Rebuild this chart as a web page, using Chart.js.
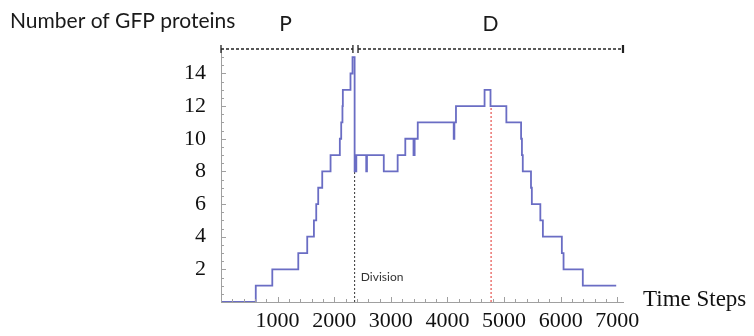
<!DOCTYPE html>
<html>
<head>
<meta charset="utf-8">
<script src="https://cdn.jsdelivr.net/npm/chart.js@4"></script>
<style>
  html, body { margin: 0; padding: 0; background: #fff; }
</style>
</head>
<body>
<canvas id="myGraph" width="754" height="336"></canvas>
<script>
// Time steps at which the number of GFP proteins changes
var stepTimes = [0, 614, 906, 1365, 1523, 1641, 1682, 1717, 1788, 1935, 2099, 2123, 2145, 2152, 2287, 2323,
    2360, 2390, 2565, 2578, 2875, 3120, 3255, 3400, 3420, 3475, 4110, 4122, 4150, 4655, 4760, 5040,
    5300, 5315, 5330, 5475, 5490, 5640, 5685, 6020, 6050, 6390, 6980];

// Protein count from each of those time steps on
var gfpCounts = [0, 1, 2, 3, 4, 5, 6, 7, 8, 9, 10, 11, 12, 13, 14, 15,
    8, 9, 8, 9, 8, 9, 10, 9, 10, 11, 10, 11, 12, 13, 12, 11,
    10, 9, 8, 7, 6, 5, 4, 3, 2, 1, 1];

// Tick labels
var xTickValues = [1000, 2000, 3000, 4000, 5000, 6000, 7000];
var yTickValues = [2, 4, 6, 8, 10, 12, 14];

// Division marker and the red marker
var divisionTime = 2360;
var divisionCount = 8;
var markTime = 4770;
var markCount = 12;

// Phase brackets on top (P = before division, D = after)
var phaseNames = ['P', 'D'];
var phaseStart = [0, 2420];
var phaseEnd = [2330, 7100];
var phaseLabelAt = [1140, 4760];

// Axis ranges
var xMax = 7100;
var yMax = 15.5;

// Build the points of the step line
var points = stepTimes.map(function (t, i) {
    return { x: t, y: gfpCounts[i] };
});

// Bracket datasets
var brackets = phaseNames.map(function (name, i) {
    return {
        label: name,
        data: [{ x: phaseStart[i], y: yMax }, { x: phaseEnd[i], y: yMax }],
        borderColor: '#222',
        borderWidth: 1.3,
        borderDash: [3, 2],
        pointStyle: 'line',
        rotation: 90,
        pointRadius: 4,
        pointBorderWidth: i === 1 ? [1.3, 2.2] : 1.3,
        pointBorderColor: '#222',
        clip: false,
        order: 3
    };
});

// Ticks, labels and notes drawn on top
var annotations = {
    id: 'annotations',
    afterDraw: function (chart) {
        var ctx = chart.ctx;
        var x = chart.scales.x;
        var y = chart.scales.y;
        var area = chart.chartArea;
        ctx.save();

        // Small ticks pointing into the plot
        ctx.strokeStyle = '#a0a0a0';
        ctx.lineWidth = 1;
        ctx.beginPath();
        for (var t = 0; t <= 7000; t += 200) {
            var px = Math.round(x.getPixelForValue(t)) + 0.5;
            var len = t % 1000 === 0 ? 5 : 3;
            ctx.moveTo(px, area.bottom);
            ctx.lineTo(px, area.bottom - len);
        }
        for (var v = 0; v <= 15; v += 0.5) {
            var py = Math.round(y.getPixelForValue(v)) + 0.5;
            var l = v % 2 === 0 ? 5 : 3;
            ctx.moveTo(area.left, py);
            ctx.lineTo(area.left + l, py);
        }
        ctx.stroke();

        // Texts
        ctx.fillStyle = '#1a1a1a';
        ctx.textBaseline = 'middle';
        ctx.textAlign = 'left';
        ctx.font = '21px Lato';
        ctx.fillText('Number of GFP proteins', 10, 21);

        ctx.textAlign = 'center';
        phaseNames.forEach(function (name, i) {
            ctx.fillText(name, x.getPixelForValue(phaseLabelAt[i]), 24);
        });

        ctx.textAlign = 'left';
        ctx.fillStyle = '#333';
        ctx.font = '12px Lato';
        ctx.fillText('Division', x.getPixelForValue(2470), y.getPixelForValue(1.5));

        ctx.fillStyle = '#111';
        ctx.font = '23px "Liberation Serif"';
        ctx.fillText('Time Steps', area.right + 20, area.bottom - 2);
        ctx.restore();
    }
};

var ctx = document.getElementById('myGraph').getContext('2d');

var chart = new Chart(ctx, {
    type: 'line',
    data: {
        datasets: [
            {
                label: 'GFP',
                data: points,
                stepped: 'before',
                borderColor: '#6a6dc4',
                borderWidth: 1.8,
                pointRadius: 0,
                fill: false,
                order: 1
            },
            {
                label: 'Division',
                data: [{ x: divisionTime, y: 0 }, { x: divisionTime, y: divisionCount }],
                borderColor: '#333',
                borderWidth: 1,
                borderDash: [2, 2],
                pointRadius: 0,
                order: 2
            },
            {
                label: 'Mark',
                data: [{ x: markTime, y: 0 }, { x: markTime, y: markCount }],
                borderColor: '#e0302a',
                borderWidth: 1,
                borderDash: [2, 2],
                pointRadius: 0,
                order: 2
            }
        ].concat(brackets)
    },
    options: {
        responsive: false,
        animation: false,
        layout: { padding: { top: 49, right: 131, left: 0, bottom: 0 } },
        plugins: {
            legend: { display: false },
            tooltip: { enabled: false }
        },
        scales: {
            x: {
                type: 'linear',
                min: 0,
                max: xMax,
                grid: { display: false },
                border: { display: true, color: '#a0a0a0', width: 1 },
                ticks: {
                    autoSkip: false,
                    maxRotation: 0,
                    padding: -2,
                    color: '#111',
                    font: { family: 'Liberation Serif', size: 22 },
                    callback: function (v) { return String(v); }
                },
                afterBuildTicks: function (scale) {
                    scale.ticks = xTickValues.map(function (v) { return { value: v }; });
                },
                afterFit: function (scale) { scale.height = 34; }
            },
            y: {
                type: 'linear',
                min: 0,
                max: yMax,
                grid: { display: false },
                border: { display: true, color: '#a0a0a0', width: 1 },
                ticks: {
                    autoSkip: false,
                    padding: 7,
                    color: '#111',
                    font: { family: 'Liberation Serif', size: 22 },
                    callback: function (v) { return String(v); }
                },
                afterBuildTicks: function (scale) {
                    scale.ticks = yTickValues.map(function (v) { return { value: v }; });
                },
                afterFit: function (scale) { scale.width = 221; }
            }
        }
    },
    plugins: [annotations]
});
</script>
</body>
</html>
